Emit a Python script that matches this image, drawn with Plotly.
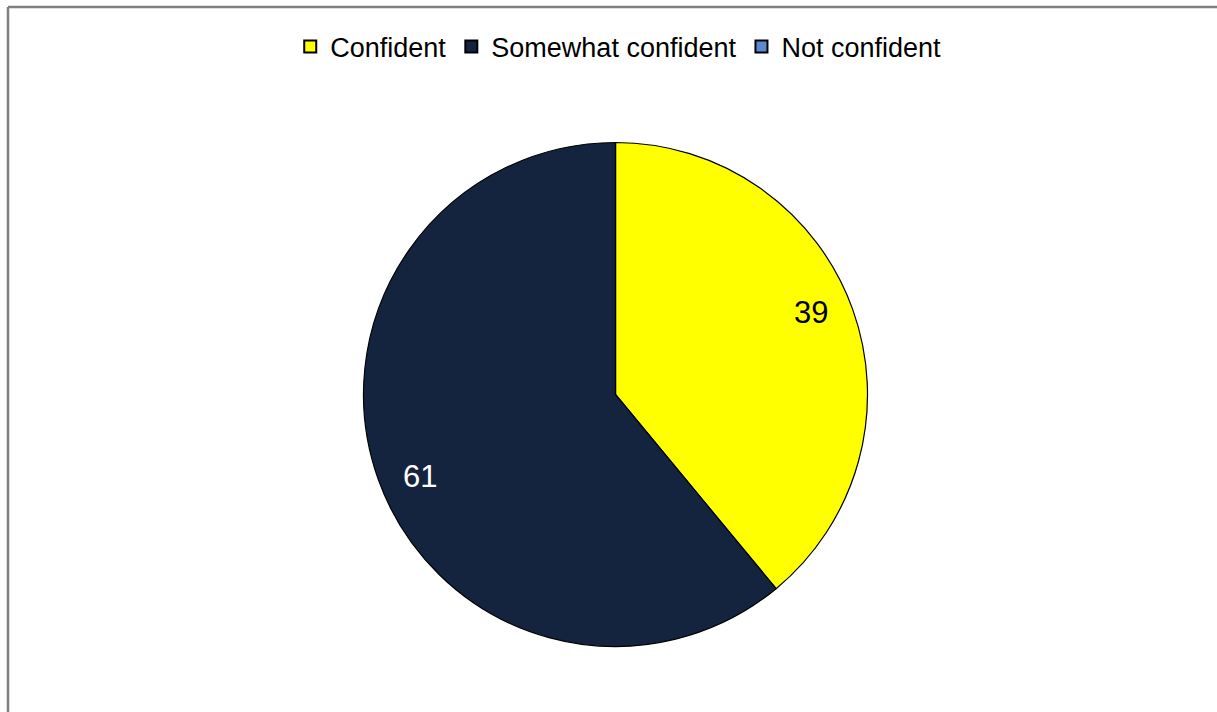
import math
import plotly.graph_objects as go

# Survey responses: confidence level
labels = ["Confident", "Somewhat confident", "Not confident"]
values = [39, 61, 0]
colors = ["#FFFF00", "#14243F", "#5A8AD0"]
label_colors = ["#000000", "#FFFFFF", "#000000"]

W, H = 1217, 712
cx, cy, R = 615.5, 394.5, 252  # pie centre / radius in pixels

fig = go.Figure()
fig.add_trace(go.Pie(
    labels=labels,
    values=values,
    sort=False,
    direction="clockwise",
    rotation=0,
    marker=dict(colors=colors, line=dict(color="#000000", width=1.2)),
    textinfo="none",
    hoverinfo="label+value",
    domain=dict(x=[(cx - R) / W, (cx + R) / W],
                y=[(H - cy - R) / H, (H - cy + R) / H]),
))

# value labels placed near each slice's mid angle (angle measured clockwise from 12 o'clock)
annotations = []
total = sum(values)
start = 0.0
for lab, v, tc in zip(labels, values, label_colors):
    if v <= 0:
        continue
    mid_deg = (start + v / 2) / total * 360.0 - 3.0
    start += v
    a = math.radians(mid_deg)
    r = 0.84 * R
    px = cx + r * math.sin(a)
    py = cy - r * math.cos(a)
    annotations.append(dict(
        x=px / W, y=1 - py / H, xref="paper", yref="paper",
        xanchor="center", yanchor="middle",
        text=str(v), showarrow=False,
        font=dict(family="Liberation Sans, Arial", size=31, color=tc),
    ))

fig.update_layout(
    width=W, height=H,
    margin=dict(l=0, r=0, t=0, b=0),
    paper_bgcolor="white",
    plot_bgcolor="white",
    font=dict(family="Liberation Sans, Arial", color="#000000"),
    legend=dict(
        orientation="h",
        x=0.508, xanchor="center",
        y=1 - 47 / H, yanchor="middle",
        font=dict(size=27, color="#000000"),
        itemsizing="constant",
        traceorder="normal",
    ),
    annotations=annotations,
    shapes=[
        dict(type="line", xref="paper", yref="paper",
             x0=8 / W, x1=1.01, y0=1 - 7 / H, y1=1 - 7 / H,
             line=dict(color="#808080", width=2.5)),
        dict(type="line", xref="paper", yref="paper",
             x0=8 / W, x1=8 / W, y0=1 - 7 / H, y1=-0.01,
             line=dict(color="#808080", width=2.5)),
    ],
)

fig.write_html("out.html")
